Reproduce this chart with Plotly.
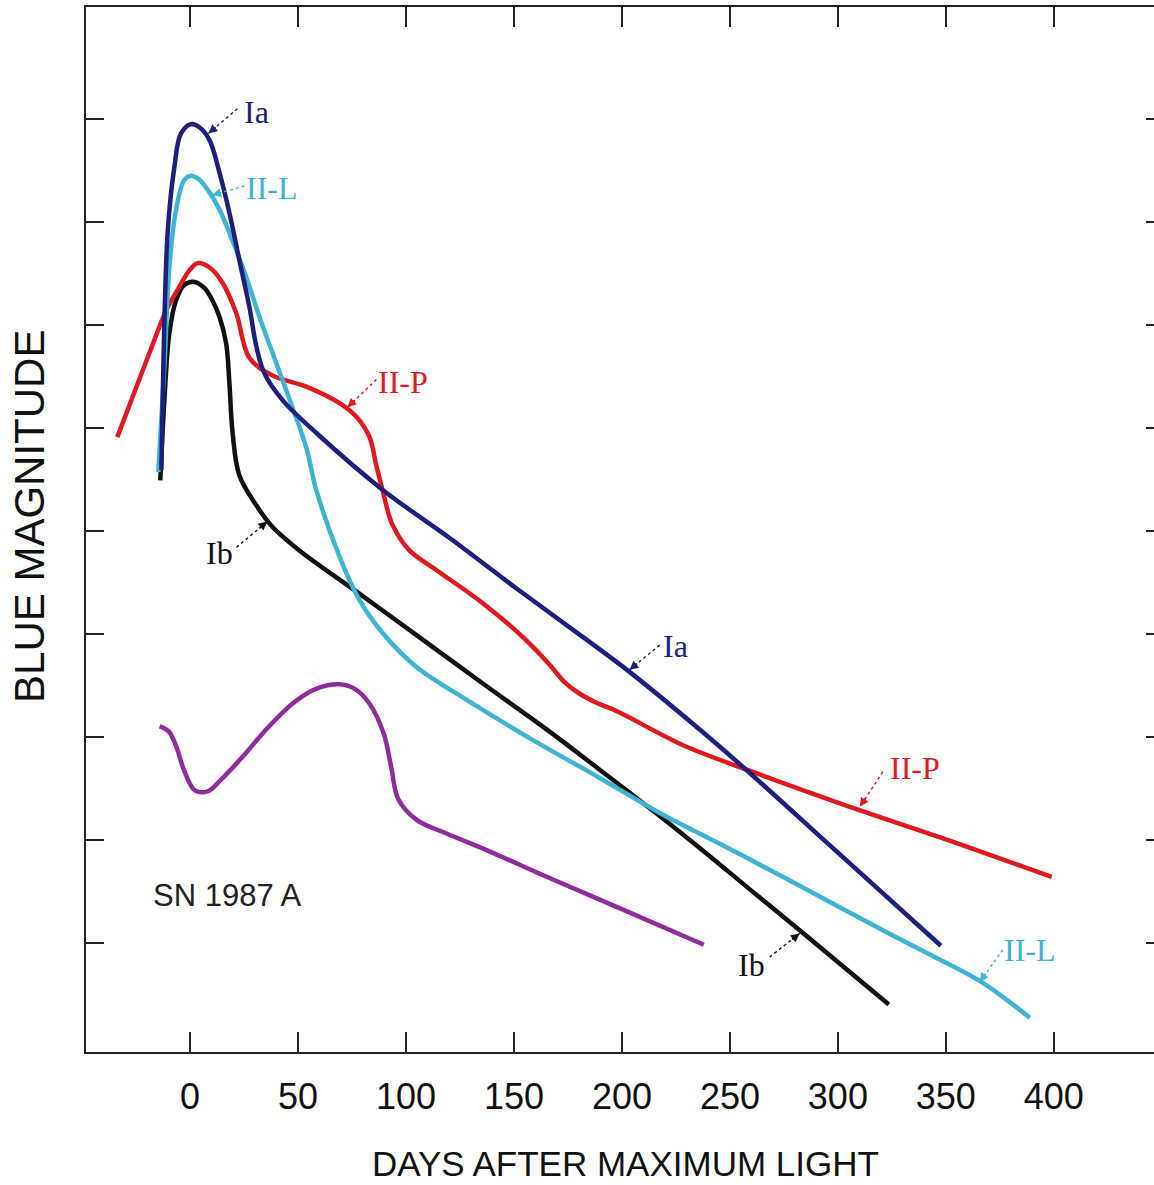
import plotly.graph_objects as go

# ---- data (days after maximum, blue magnitude) ----
ia_days = [-13.3, -12.7, -10.4, -7.3, -4.2, 0.5, 4.3, 8.9, 13.6, 18.2, 22.8, 27.5, 30.7, 34.4,
           42.8, 58.5, 89.1, 120.2, 151.2, 181.8, 203.5, 236.0, 259.1, 297.6, 347.7]
ia_mag = [-16.59, -17.27, -18.89, -19.53, -19.86, -19.95, -19.92, -19.80, -19.48, -19.09, -18.63,
          -18.17, -17.79, -17.53, -17.27, -16.95, -16.40, -15.93, -15.44, -14.97, -14.63, -14.07,
          -13.65, -12.92, -11.97]

iil_days = [-14.7, -11.9, -9.6, -6.5, -2.6, 0.5, 4.3, 8.9, 13.6, 19.6, 25.9, 32.1, 39.9, 47.4,
            53.8, 58.4, 69.2, 78.4, 89.1, 104.7, 127.9, 158.6, 189.7, 217.5, 245.3, 274.5, 320.8,
            344.9, 367.1, 388.9]
iil_mag = [-16.57, -17.59, -18.56, -19.12, -19.41, -19.45, -19.41, -19.29, -19.12, -18.82, -18.47,
           -18.08, -17.63, -17.20, -16.81, -16.40, -15.75, -15.33, -15.01, -14.68, -14.36, -13.97,
           -13.60, -13.26, -12.96, -12.64, -12.12, -11.86, -11.61, -11.27]

iip_days = [-33.7, -25.0, -17.5, -11.1, -5.0, -0.3, 3.5, 8.9, 15.0, 21.3, 27.5, 38.1, 53.8, 69.2,
            76.9, 83.1, 86.2, 89.1, 93.7, 101.6, 114.0, 135.4, 154.0, 166.5, 173.4, 180.3, 188.2,
            197.5, 228.1, 259.1, 305.5, 351.8, 399.0]
iip_mag = [-16.91, -17.39, -17.80, -18.14, -18.37, -18.53, -18.60, -18.56, -18.41, -18.12, -17.68,
           -17.51, -17.40, -17.24, -17.11, -16.91, -16.64, -16.40, -16.06, -15.81, -15.62, -15.30,
           -14.97, -14.70, -14.53, -14.42, -14.33, -14.25, -13.92, -13.67, -13.32, -12.99, -12.64]

ib_days = [-13.8, -11.9, -9.6, -6.5, -2.6, 1.5, 6.6, 10.3, 13.6, 16.7, 18.2, 19.7, 22.8, 30.6,
           38.1, 50.6, 78.4, 104.7, 135.4, 166.5, 189.7, 217.5, 236.0, 259.1, 282.3, 323.6]
ib_mag = [-16.49, -17.27, -17.92, -18.24, -18.39, -18.42, -18.36, -18.24, -18.08, -17.82, -17.44,
          -16.95, -16.54, -16.25, -16.04, -15.81, -15.39, -14.99, -14.52, -14.05, -13.68, -13.23,
          -12.92, -12.52, -12.12, -11.40]

sn87_days = [-14.1, -9.8, -6.3, -2.9, 2.2, 8.2, 14.2, 24.5, 36.5, 48.5, 58.8, 69.1, 75.9, 82.8,
             89.7, 93.1, 96.5, 105.1, 118.8, 139.4, 165.1, 199.4, 237.9]
sn87_mag = [-14.10, -14.05, -13.90, -13.68, -13.48, -13.47, -13.58, -13.81, -14.10, -14.34, -14.47,
            -14.51, -14.47, -14.33, -14.03, -13.71, -13.39, -13.19, -13.06, -12.88, -12.64, -12.33,
            -11.98]

x_ticks = [0, 50, 100, 150, 200, 250, 300, 350, 400]
y_ticks = [-20, -19, -18, -17, -16, -15, -14, -13, -12]

NAVY = "#1c1f7e"
LBLUE = "#3fb3d3"
RED = "#e0191e"
BLACK = "#111111"
PURPLE = "#8f2b9c"

SANS = "Liberation Sans, Arial, sans-serif"
SERIF = "Liberation Serif, Times New Roman, DejaVu Serif, serif"

fig = go.Figure()
for xs, ys, col, name, yax in [
    (sn87_days, sn87_mag, PURPLE, "SN 1987 A", "y2"),
    (ib_days, ib_mag, BLACK, "Ib", "y"),
    (iip_days, iip_mag, RED, "II-P", "y"),
    (iil_days, iil_mag, LBLUE, "II-L", "y"),
    (ia_days, ia_mag, NAVY, "Ia", "y"),
]:
    fig.add_trace(go.Scatter(x=xs, y=ys, mode="lines", name=name, yaxis=yax,
                             line=dict(color=col, width=4.5, shape="spline", smoothing=1.0),
                             showlegend=False, hoverinfo="skip"))

# labels: (text, text_x, text_y, tail_x, tail_y, head_x, head_y, color)
labels = [
    ("Ia", 30.7, -20.07, 21.9, -20.10, 8.5, -19.86, NAVY),
    ("II-L", 38.1, -19.33, 25.2, -19.35, 10.3, -19.26, LBLUE),
    ("II-P", 98.8, -17.45, 86.3, -17.47, 72.9, -17.20, RED),
    ("Ib", 13.6, -15.78, 21.5, -15.84, 35.8, -16.09, BLACK),
    ("Ia", 224.9, -14.88, 217.5, -14.89, 203.5, -14.65, NAVY),
    ("II-P", 335.7, -13.70, 320.8, -13.66, 310.2, -13.32, RED),
    ("II-L", 388.9, -11.93, 376.4, -11.93, 365.7, -11.62, LBLUE),
    ("Ib", 260.1, -11.78, 268.4, -11.86, 282.3, -12.09, BLACK),
]
for t, tx, ty, lx, ly, hx, hy, c in labels:
    fig.add_annotation(x=tx, y=ty, xref="x", yref="y", text=t, showarrow=False,
                       font=dict(family=SERIF, size=32, color=c))
    # dotted shaft
    fig.add_shape(type="line", xref="x", yref="y", x0=lx, y0=ly, x1=hx, y1=hy,
                  line=dict(color=c, width=1.4, dash="dot"))
    # arrow head
    fig.add_annotation(x=hx, y=hy, ax=hx + (lx - hx) * 0.3, ay=hy + (ly - hy) * 0.3,
                       xref="x", yref="y", axref="x", ayref="y", text="", showarrow=True,
                       arrowhead=2, arrowsize=1.1, arrowwidth=1.6, arrowcolor=c, standoff=0)

fig.add_annotation(x=17.3, y=-12.46, xref="x", yref="y", text="SN 1987 A", showarrow=False,
                   font=dict(family=SANS, size=31, color="#222222"))

fig.add_annotation(x=0.505, y=-0.107, xref="paper", yref="paper", text="DAYS AFTER MAXIMUM LIGHT",
                   showarrow=False, yanchor="middle",
                   font=dict(family=SANS, size=35, color="#111111"))
fig.add_annotation(x=-0.0524, y=0.512, xref="paper", yref="paper", text="BLUE MAGNITUDE",
                   showarrow=False, textangle=-90, xanchor="center", yanchor="middle",
                   font=dict(family=SANS, size=42, color="#111111"))

fig.update_layout(
    width=1154, height=1185, autosize=False,
    margin=dict(l=86, r=0, t=7, b=133),
    paper_bgcolor="white", plot_bgcolor="white",
    xaxis=dict(range=[-48.2, 446.4], tickvals=x_ticks, ticktext=[str(v) for v in x_ticks],
               ticks="inside", ticklen=20, tickwidth=2, tickcolor="#222222",
               showline=True, linewidth=2, linecolor="#222222", mirror="ticks",
               showgrid=False, zeroline=False,
               tickfont=dict(family=SANS, size=36, color="#111111"), ticklabelstandoff=12),
    yaxis=dict(range=[-10.938, -21.088], tickvals=y_ticks, showticklabels=False,
               ticks="inside", ticklen=18, tickwidth=2, tickcolor="#222222",
               showline=True, linewidth=2, linecolor="#222222", mirror=False,
               showgrid=False, zeroline=False),
    yaxis2=dict(range=[-10.938, -21.088], tickvals=y_ticks, showticklabels=False,
                overlaying="y", side="right", anchor="x",
                ticks="inside", ticklen=8, tickwidth=2, tickcolor="#222222",
                showline=False, showgrid=False, zeroline=False),
)

fig.write_html("out.html", config={"displayModeBar": False},
               post_script="document.body.style.margin='0';")
